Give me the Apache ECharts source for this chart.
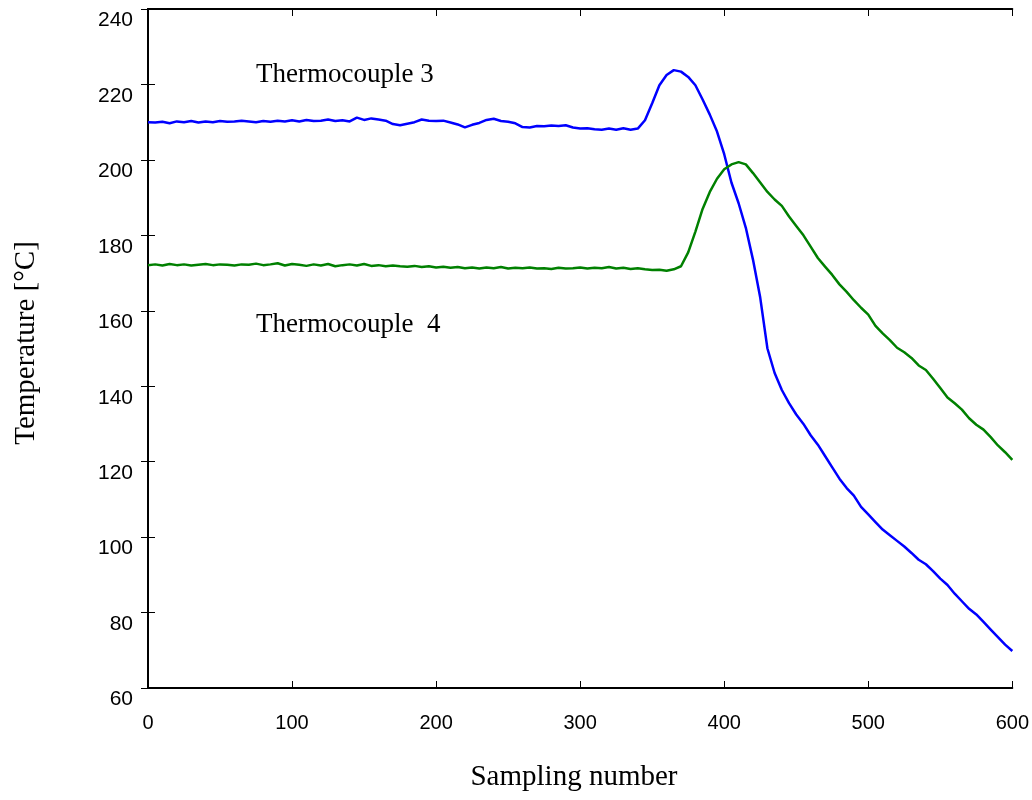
<!DOCTYPE html>
<html>
<head>
<meta charset="utf-8">
<script src="https://cdn.jsdelivr.net/npm/echarts@6/dist/echarts.min.js"></script>
<style>html,body{margin:0;padding:0;background:#fff}#chart{width:1032px;height:800px}</style>
</head>
<body>
<div id="chart"></div>
<script>
const samples = [0,5,10,15,20,25,30,35,40,45,50,55,60,65,70,75,80,85,90,95,100,105,110,115,120,125,130,135,140,145,150,155,160,165,170,175,180,185,190,195,200,205,210,215,220,225,230,235,240,245,250,255,260,265,270,275,280,285,290,295,300,305,310,315,320,325,330,335,340,345,350,355,360,365,370,375,380,385,390,395,400,405,410,415,420,425,430,435,440,445,450,455,460,465,470,475,480,485,490,495,500,505,510,515,520,525,530,535,540,545,550,555,560,565,570,575,580,585,590,595,600];

const tc3 = [210.0,209.9,210.1,209.7,210.2,210.0,210.3,209.9,210.2,210.0,210.3,210.1,210.2,210.4,210.2,210.0,210.3,210.1,210.4,210.2,
210.5,210.2,210.6,210.3,210.4,210.7,210.3,210.5,210.2,211.2,210.6,211.0,210.7,210.4,209.5,209.2,209.6,210.0,210.7,210.4,
210.3,210.4,209.9,209.4,208.6,209.3,209.8,210.6,210.9,210.3,210.1,209.7,208.7,208.6,209.0,208.9,209.1,209.0,209.2,208.6,
208.3,208.4,208.1,208.0,208.3,208.0,208.4,208.0,208.3,210.5,215.0,219.8,222.5,223.8,223.4,222.0,219.8,216.0,212.0,207.5,
201.5,194.0,188.5,182.0,173.5,163.5,150.0,143.5,139.0,135.5,132.5,130.0,127.0,124.5,121.5,118.5,115.5,113.0,111.0,108.0,
106.0,104.0,102.0,100.5,99.0,97.5,95.8,94.0,92.8,91.0,89.0,87.3,85.0,83.0,81.0,79.5,77.5,75.5,73.5,71.5,69.8];

const tc4 = [172.1,172.3,172.0,172.4,172.1,172.3,172.0,172.2,172.4,172.1,172.3,172.2,172.0,172.3,172.2,172.5,172.1,172.3,172.6,172.0,
172.4,172.2,171.9,172.3,172.0,172.4,171.8,172.1,172.3,172.0,172.4,171.9,172.1,171.8,172.0,171.8,171.7,171.9,171.6,171.8,
171.5,171.7,171.4,171.6,171.3,171.5,171.2,171.5,171.3,171.6,171.2,171.4,171.3,171.5,171.2,171.3,171.1,171.4,171.2,171.3,
171.5,171.2,171.4,171.3,171.6,171.2,171.4,171.1,171.3,171.0,170.8,170.9,170.6,171.0,171.8,175.5,181.0,187.0,191.5,195.0,
197.5,198.8,199.4,198.8,196.5,194.0,191.5,189.5,187.8,185.0,182.5,180.0,177.0,174.0,171.7,169.5,167.0,165.0,162.8,160.8,
159.0,156.0,154.0,152.2,150.2,149.0,147.5,145.5,144.3,142.0,139.5,137.0,135.5,133.8,131.5,129.8,128.5,126.5,124.3,122.5,120.5];

const xTicks = [0,100,200,300,400,500,600];
const yTicks = [60,80,100,120,140,160,180,200,220,240];
const seriesNames = ['Thermocouple 3','Thermocouple  4'];
const xTitle = 'Sampling number';
const yTitle = 'Temperature [°C]';

const pairs = (ys) => samples.map((x, i) => [x, ys[i]]);

const chart = echarts.init(document.getElementById('chart'), null, {renderer: 'canvas'});
const lineStyleAxis = {show: true, lineStyle: {color: '#000', width: 2}};
const tickIn = {show: true, inside: true, length: 7, lineStyle: {color: '#000', width: 1}};
const xBase = {type: 'value', min: xTicks[0], max: xTicks[xTicks.length-1], interval: 100, splitLine: {show: false}, axisLine: lineStyleAxis, axisTick: tickIn};
const yBase = {type: 'value', min: yTicks[0], max: yTicks[yTicks.length-1], interval: 20, splitLine: {show: false}, axisLine: lineStyleAxis, axisTick: tickIn};
const serif = '"Liberation Serif", "Times New Roman", serif';

chart.setOption({
  animation: false,
  backgroundColor: '#fff',
  grid: {left: 148, right: 18, top: 9, bottom: 112, containLabel: false},
  xAxis: [
    Object.assign({}, xBase, {position: 'bottom', axisLabel: {color: '#000', fontFamily: 'Liberation Sans, Arial', fontSize: 20, margin: 25}}),
    Object.assign({}, xBase, {position: 'top', axisLabel: {show: false}})
  ],
  yAxis: [
    Object.assign({}, yBase, {position: 'left', axisLabel: {color: '#000', fontFamily: 'Liberation Sans, Arial', fontSize: 21, margin: 15, verticalAlign: 'top', lineHeight: 23}}),
    Object.assign({}, yBase, {position: 'right', axisLabel: {show: false}})
  ],
  series: [
    {name: seriesNames[0], type: 'line', data: pairs(tc3), showSymbol: false, symbol: 'none', lineStyle: {color: '#0000FF', width: 2.5}, xAxisIndex: 0, yAxisIndex: 0},
    {name: seriesNames[1], type: 'line', data: pairs(tc4), showSymbol: false, symbol: 'none', lineStyle: {color: '#008000', width: 2.5}, xAxisIndex: 0, yAxisIndex: 0}
  ],
  graphic: [
    {type: 'text', x: 256, y: 75, style: {text: seriesNames[0], font: '27px ' + serif, fill: '#000', align: 'left', verticalAlign: 'middle'}},
    {type: 'text', x: 256, y: 325, style: {text: seriesNames[1], font: '27px ' + serif, fill: '#000', align: 'left', verticalAlign: 'middle'}},
    {type: 'text', x: 574, y: 777, style: {text: xTitle, font: '29px ' + serif, fill: '#000', align: 'center', verticalAlign: 'middle'}},
    {type: 'text', x: 26, y: 343, rotation: Math.PI/2, style: {text: yTitle, font: '29px ' + serif, fill: '#000', align: 'center', verticalAlign: 'middle'}}
  ]
});
</script>
</body>
</html>
